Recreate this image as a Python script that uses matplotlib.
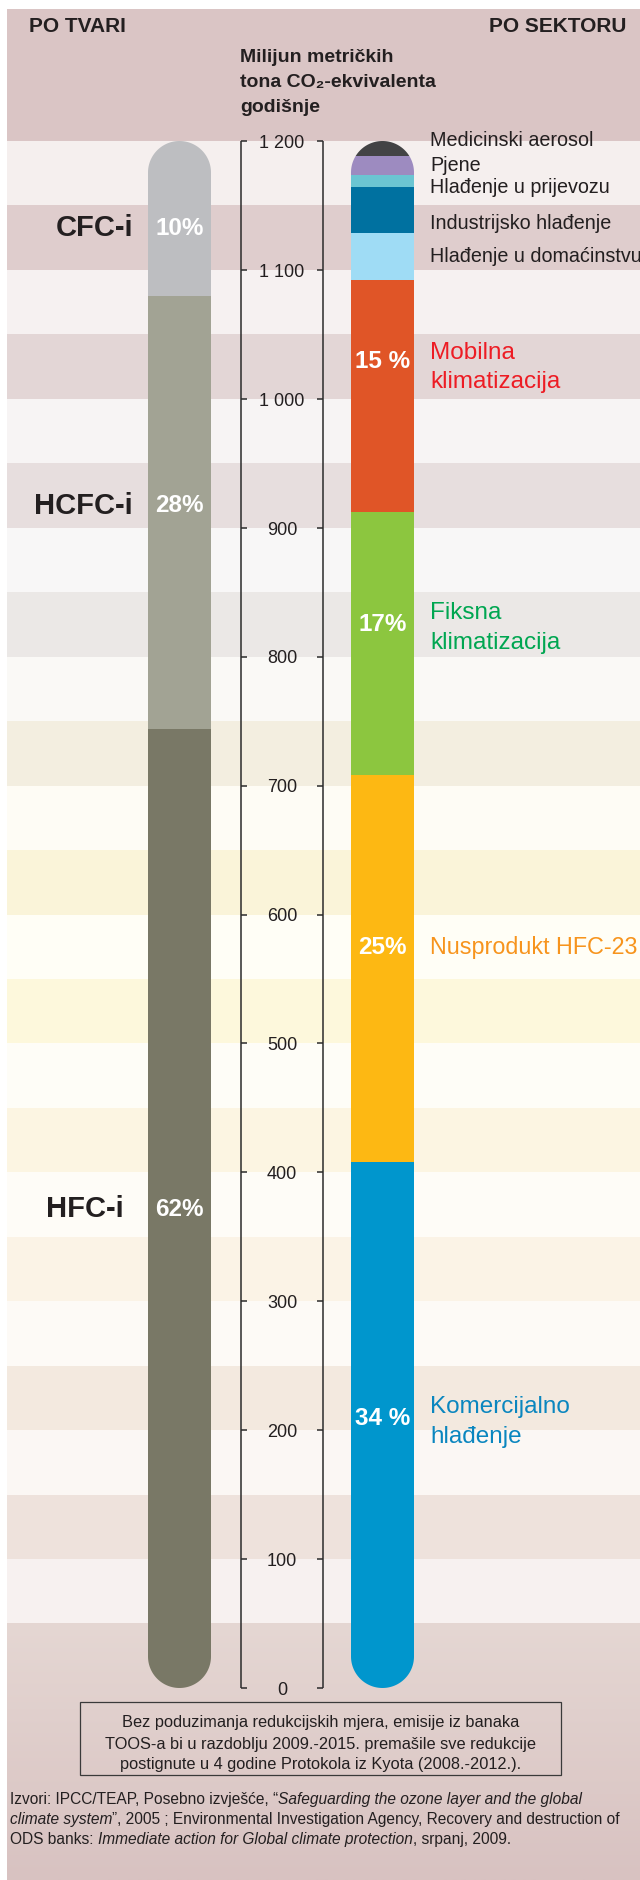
import matplotlib
matplotlib.use("Agg")
import matplotlib.pyplot as plt
import numpy as np
from matplotlib import font_manager
from matplotlib.patches import Polygon, Rectangle
from matplotlib.transforms import Affine2D

# --- data ---------------------------------------------------------------
substances = ["HFC-i", "HCFC-i", "CFC-i"]
substance_pct = [62, 28, 10]

sectors = [
    "Komercijalno\nhlađenje",
    "Nusprodukt HFC-23",
    "Fiksna\nklimatizacija",
    "Mobilna\nklimatizacija",
    "Hlađenje u domaćinstvu",
    "Industrijsko hlađenje",
    "Hlađenje u prijevozu",
    "Pjene",
    "Medicinski aerosol",
]
sector_values = [408, 300, 204, 180, 37, 35, 10, 14, 12]
sector_pct = ["34 %", "25%", "17%", "15 %", "", "", "", "", ""]

total = 1200
ticks = list(range(0, 1201, 100))

unit_lines = ["Milijun metričkih", "tona CO₂-ekvivalenta", "godišnje"]
note_lines = [
    "Bez poduzimanja redukcijskih mjera, emisije iz banaka",
    "TOOS-a bi u razdoblju 2009.-2015. premašile sve redukcije",
    "postignute u 4 godine Protokola iz Kyota (2008.-2012.).",
]
source_lines = [
    [("Izvori: IPCC/TEAP, Posebno izvješće, “", "normal", 0),
     ("Safeguarding the ozone layer and the global", "italic", 0)],
    [("climate system", "italic", 0),
     ("”, 2005 ; Environmental Investigation Agency, Recovery and destruction of", "normal", 0)],
    [("ODS banks:", "normal", 0),
     ("Immediate action for Global climate protection", "italic", 3.1),
     (", srpanj, 2009.", "normal", 0)],
]

# --- style --------------------------------------------------------------
substance_colors = ["#797866", "#a2a394", "#bdbec1"]
sector_colors = ["#0096cd", "#fdb813", "#8cc63f", "#e05527", "#9fdcf5",
                 "#0071a0", "#6bc5d2", "#9d8bc0", "#434345"]
sector_text_colors = ["#0a86bf", "#f7941d", "#00a651", "#ed1c24",
                      "#231f20", "#231f20", "#231f20", "#231f20", "#231f20"]

# alternating bands, bottom to top: [100k, 100k+50] dark, [100k+50, 100k+100] light
band_dark = ["#e5d7d3", "#eee2dc", "#f3e9df", "#fbf3e6", "#fcf5e2", "#fdf8dc",
             "#faf4d9", "#f3eee0", "#ebe8e6", "#e7dede", "#e3d6d6", "#dfcdcd"]
band_light = ["#f7f1f0", "#fbf7f4", "#fdfaf6", "#fefcf7", "#fefdf7", "#fffef6",
              "#fefcf5", "#faf9f6", "#f8f7f7", "#f7f4f4", "#f6f1f1", "#f5efee"]
header_color = "#dac5c5"
ink = "#231f20"

W, H = 640, 1881
ZERO_PX = 1689.0
PX_PER_UNIT = 1547.0 / 1200.0
MARGIN_L, MARGIN_T = 7, 10
BAR_W = 63.0
LEFT_X, RIGHT_X = 179.5, 382.5

installed = {f.name for f in font_manager.fontManager.ttflist}
FAM = ["Liberation Sans", "DejaVu Sans"]
if "Liberation Sans Narrow" in installed:
    COND, cond_size = ["Liberation Sans Narrow"] + FAM, 17
else:
    COND, cond_size = FAM, 15
plt.rcParams["font.family"] = FAM


def v(py):
    """value on the scale for a pixel row counted from the top"""
    return (ZERO_PX - py) / PX_PER_UNIT


fig = plt.figure(figsize=(W / 100, H / 100), dpi=100)
fig.patch.set_facecolor("white")
ax = fig.add_axes([0, 0, 1, 1])
ax.set_xlim(0, W)
ax.set_ylim(v(H), v(0))
ax.axis("off")

# pixel coordinates from the top-left corner for the free text
top_px = Affine2D().scale(1 / W, -1 / H).translate(0, 1) + fig.transFigure

# background bands
xmin = MARGIN_L / W
for k in range(12):
    if k > 0:
        ax.axhspan(100 * k, 100 * k + 50, xmin=xmin, color=band_dark[k], lw=0, zorder=0)
    ax.axhspan(100 * k + 50, 100 * k + 100, xmin=xmin, color=band_light[k], lw=0, zorder=0)
ax.axhspan(total, v(MARGIN_T), xmin=xmin, color=header_color, lw=0, zorder=0)

# footer fades into a deeper pink
c0 = np.array(matplotlib.colors.to_rgb(band_dark[0]))
c1 = np.array(matplotlib.colors.to_rgb("#d8c2c1"))
t = np.linspace(0, 1, 256)[:, None]
grad = (c0 * (1 - t) + c1 * t)[:, None, :]
ax.imshow(grad, extent=[MARGIN_L, W, v(H), 50], aspect="auto", zorder=0,
          interpolation="bilinear")


def capsule(cx):
    r = BAR_W / 2
    ry = r / PX_PER_UNIT
    a = np.linspace(0, np.pi, 60)
    top = np.column_stack([cx + r * np.cos(a), total - ry + ry * np.sin(a)])
    bot = np.column_stack([cx - r * np.cos(a), ry - ry * np.sin(a)])
    return Polygon(np.vstack([top, bot]), closed=True, transform=ax.transData)


def stacked(cx, values, colors):
    bottoms = np.concatenate([[0], np.cumsum(values)[:-1]])
    bars = ax.bar(cx, values, bottom=bottoms, width=BAR_W, color=colors,
                  lw=0, zorder=2)
    clip = capsule(cx)
    for b in bars:
        b.set_clip_path(clip)
    return bottoms


substance_values = [p * total / 100 for p in substance_pct]
stacked(LEFT_X, substance_values, substance_colors)
stacked(RIGHT_X, sector_values, sector_colors)

# scale bracket between the bars
ax.vlines([241, 323], 0, total, color="#2b2b2b", lw=1.1, zorder=3)
ax.hlines(ticks, 241, 247, color="#2b2b2b", lw=1.1, zorder=3)
ax.hlines(ticks, 317, 323, color="#2b2b2b", lw=1.1, zorder=3)
for tk in ticks:
    ax.text(282, tk - 1, f"{tk:,}".replace(",", " "), ha="center", va="center",
            fontsize=13, color=ink, zorder=4)

# substance labels
substance_label_y = [372, 918, 1133]
substance_label_x = [124, 133, 133]
for name, pct, y, x in zip(substances, substance_pct, substance_label_y, substance_label_x):
    ax.text(x, y, name, ha="right", va="center", fontsize=21, fontweight="bold",
            color=ink, zorder=4)
    ax.text(LEFT_X, y, f"{pct}%", ha="center", va="center", fontsize=17.5,
            fontweight="bold", color="white", zorder=4)

# sector labels
sector_pct_y = [210, 575, 826, 1030]
sector_label_y = [207, 575, 823, 1025, 1111, 1137, 1165, 1182, 1201]
sector_label_size = [17.5, 16.8, 17.5, 17.5, 14.2, 14.2, 14.2, 14.2, 14.2]
for i, (name, y) in enumerate(zip(sectors, sector_label_y)):
    ax.text(430, y, name, ha="left", va="center", fontsize=sector_label_size[i],
            color=sector_text_colors[i], linespacing=1.45, zorder=4)
for pct, y in zip(sector_pct, sector_pct_y):
    ax.text(RIGHT_X, y, pct, ha="center", va="center", fontsize=17.5,
            fontweight="bold", color="white", zorder=4)

# headings
ax.text(29, 27, "PO TVARI", transform=top_px, ha="left", va="center",
        fontsize=cond_size, fontweight="bold", family=COND, color=ink)
ax.text(626, 27, "PO SEKTORU", transform=top_px, ha="right", va="center",
        fontsize=cond_size, fontweight="bold", family=COND, color=ink)
for line, y in zip(unit_lines, [57, 82, 107]):
    ax.text(240, y, line, transform=top_px, ha="left", va="center",
            fontsize=14, fontweight="bold", color=ink)

# note box
ax.add_patch(Rectangle((80, 1703), 481, 73, transform=top_px, fill=False,
                       ec="#3a3a3a", lw=0.9, zorder=4))
for line, y in zip(note_lines, [1723, 1744, 1764]):
    ax.text(320.5, y, line, transform=top_px, ha="center", va="center",
            fontsize=11.8, color=ink, zorder=5)

# sources, mixing upright and italic runs
for pieces, y in zip(source_lines, [1804, 1824, 1844]):
    prev = None
    for txt, style, gap in pieces:
        if prev is None:
            prev = ax.text(10, y, txt, transform=top_px, ha="left", va="baseline",
                           fontsize=11.2, style=style, color=ink)
        else:
            prev = ax.annotate(txt, xy=(1, 0), xycoords=prev, xytext=(gap, 0),
                               textcoords="offset points", ha="left", va="bottom",
                               fontsize=11.2, style=style, color=ink)

fig.savefig("out.png", dpi=100, facecolor="white")
